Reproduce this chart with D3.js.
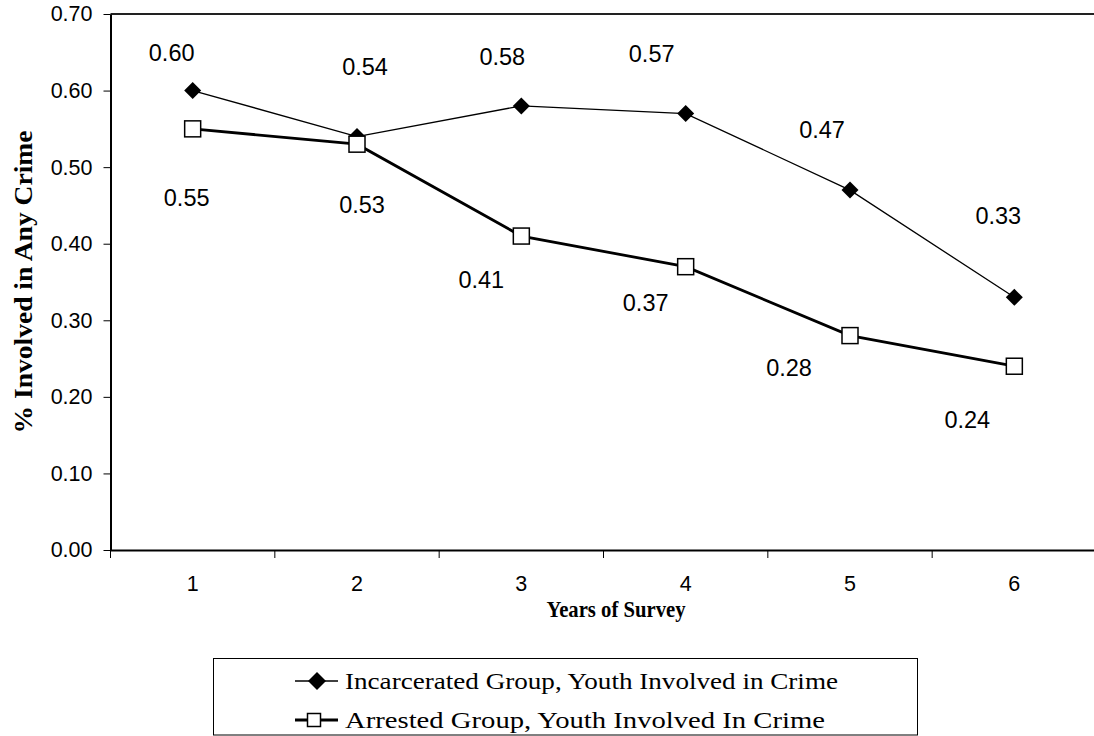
<!DOCTYPE html>
<html><head><meta charset="utf-8">
<script src="https://cdn.jsdelivr.net/npm/d3@7"></script>
<style>body{margin:0;background:#fff;overflow:hidden}svg{display:block}</style>
</head><body>
<svg id="c" width="1094" height="736"></svg>
<script>
const categories = ["1","2","3","4","5","6"];
const incarcerated = [0.60,0.54,0.58,0.57,0.47,0.33];
const arrested = [0.55,0.53,0.41,0.37,0.28,0.24];
const yTicks = [0,0.1,0.2,0.3,0.4,0.5,0.6,0.7];
const seriesNames = ["Incarcerated Group, Youth Involved in Crime","Arrested Group, Youth Involved In Crime"];
// label offsets (px) from their points, as placed in the original
const incLabelOff = [[-21,-38],[8,-70],[-19,-49],[-34,-60],[-28,-60],[-16,-81]];
const arrLabelOff = [[-6,69],[5,61],[-40,44],[-40,36],[-61,32],[-47,54]];

const svg = d3.select("#c");
const m = {l:110.5, t:14, r:1096.5, b:550};
const x = d3.scaleBand().domain(categories).range([m.l, m.r]);
const y = d3.scaleLinear().domain([0,0.7]).range([m.b, m.t]);
const cx = d => x(d) + x.bandwidth()/2;
const SANS = "Liberation Sans, Arial, sans-serif";
const SERIF = "Liberation Serif, Times New Roman, serif";

// top border
svg.append("line").attr("x1",m.l).attr("x2",1094).attr("y1",m.t).attr("y2",m.t)
  .attr("stroke","#222").attr("stroke-width",2);

// y axis
const ya = svg.append("g").attr("transform",`translate(${m.l},0)`)
  .call(d3.axisLeft(y).tickValues(yTicks).tickFormat(d3.format(".2f")).tickSize(7).tickSizeOuter(0).tickPadding(11));
ya.select(".domain").attr("stroke","#000").attr("stroke-width",2);
ya.selectAll(".tick line").attr("stroke","#000").attr("stroke-width",1);
ya.selectAll(".tick text").attr("font-family",SANS).attr("font-size",21.5).attr("fill","#000");

// x axis
const xa = svg.append("g").attr("transform",`translate(0,${m.b})`)
  .call(d3.axisBottom(x).tickSize(0).tickPadding(26));
xa.select(".domain").attr("stroke","#000").attr("stroke-width",2);
xa.selectAll(".tick text").attr("font-family",SANS).attr("font-size",21.5).attr("fill","#000");
// ticks at band boundaries
svg.append("g").selectAll("line").data(categories).join("line")
  .attr("x1",d=>x(d)).attr("x2",d=>x(d)).attr("y1",m.b).attr("y2",m.b+8)
  .attr("stroke","#000").attr("stroke-width",1);

// axis titles
svg.append("text").attr("x",616).attr("y",617).attr("text-anchor","middle")
  .attr("font-family",SERIF).attr("font-weight","bold").attr("font-size",22.5)
  .attr("textLength",139).attr("lengthAdjust","spacingAndGlyphs")
  .text("Years of Survey");
svg.append("text").attr("transform",`translate(32,${(m.t+m.b)/2}) rotate(-90)`).attr("text-anchor","middle")
  .attr("font-family",SERIF).attr("font-weight","bold").attr("font-size",26)
  .attr("textLength",303).attr("lengthAdjust","spacingAndGlyphs")
  .text("% Involved in Any Crime");

const line = d3.line().x((d,i)=>cx(categories[i])).y(d=>y(d));
svg.append("path").datum(incarcerated).attr("d",line).attr("fill","none").attr("stroke","#000").attr("stroke-width",1.3);
svg.append("path").datum(arrested).attr("d",line).attr("fill","none").attr("stroke","#000").attr("stroke-width",2.8);

const diamond = s => `M0,${-s}L${s},0L0,${s}L${-s},0Z`;
svg.append("g").selectAll("path").data(incarcerated).join("path")
  .attr("transform",(d,i)=>`translate(${cx(categories[i])},${y(d)})`).attr("d",diamond(8.5)).attr("fill","#000");
svg.append("g").selectAll("rect").data(arrested).join("rect")
  .attr("x",(d,i)=>cx(categories[i])-8).attr("y",d=>y(d)-8).attr("width",16).attr("height",16)
  .attr("fill","#fff").attr("stroke","#000").attr("stroke-width",1.5);

const lab = (data, off) => svg.append("g").selectAll("text").data(data).join("text")
  .attr("x",(d,i)=>cx(categories[i])+off[i][0]).attr("y",(d,i)=>y(d)+off[i][1])
  .attr("text-anchor","middle").attr("dominant-baseline","central")
  .attr("font-family",SANS).attr("font-size",23.5).text(d=>d3.format(".2f")(d));
lab(incarcerated, incLabelOff);
lab(arrested, arrLabelOff);

// legend
const lg = svg.append("g");
lg.append("rect").attr("x",213.5).attr("y",658.5).attr("width",704).attr("height",76.5)
  .attr("fill","#fff").attr("stroke","#000").attr("stroke-width",1);
const rows = [681,720];
const textLens = [493,480];
seriesNames.forEach((n,i)=>{
  lg.append("line").attr("x1",295).attr("x2",338).attr("y1",rows[i]).attr("y2",rows[i])
    .attr("stroke","#000").attr("stroke-width",i===0?1.3:2.8);
  if(i===0) lg.append("path").attr("transform",`translate(317,${rows[i]})`).attr("d",diamond(9)).attr("fill","#000");
  else lg.append("rect").attr("x",307.5).attr("y",rows[i]-6.5).attr("width",13).attr("height",13).attr("fill","#fff").attr("stroke","#000").attr("stroke-width",1.5);
  lg.append("text").attr("x",345).attr("y",rows[i]+7.5).
    attr("font-family",SERIF).attr("font-size",23)
    .attr("textLength",textLens[i]).attr("lengthAdjust","spacingAndGlyphs").text(n);
});
</script>
</body></html>
